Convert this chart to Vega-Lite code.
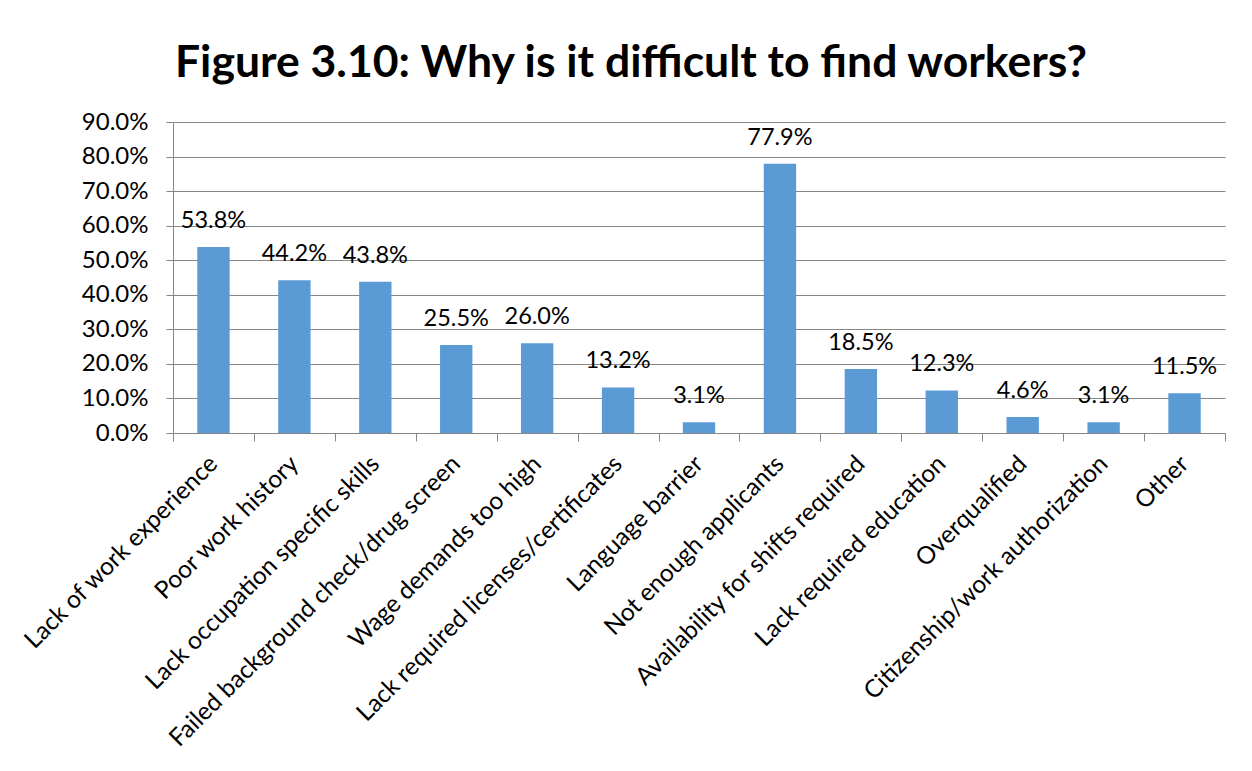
{
  "$schema": "https://vega.github.io/schema/vega-lite/v6.json",
  "width": 1052,
  "height": 311,
  "autosize": {"type": "none"},
  "padding": {"left": 173, "top": 122, "right": 27, "bottom": 338},
  "background": "#ffffff",
  "title": {
    "text": "Figure 3.10: Why is it difficult to find workers?",
    "font": "Lato",
    "fontSize": 44.5,
    "fontWeight": "bold",
    "color": "#000000",
    "anchor": "middle",
    "frame": "group",
    "dx": -68,
    "offset": 24
  },
  "config": {
    "view": {"stroke": null},
    "font": "Lato",
    "axis": {
      "labelFont": "Lato",
      "labelFontSize": 23.5,
      "labelColor": "#000000",
      "domainColor": "#868686",
      "tickColor": "#868686",
      "gridColor": "#868686",
      "titleFontSize": 0
    }
  },
  "data": {
    "values": [
      {"reason": "Lack of work experience", "pct": 0.538},
      {"reason": "Poor work history", "pct": 0.442},
      {"reason": "Lack occupation specific skills", "pct": 0.438},
      {"reason": "Failed background check/drug screen", "pct": 0.255},
      {"reason": "Wage demands too high", "pct": 0.260},
      {"reason": "Lack required licenses/certificates", "pct": 0.132},
      {"reason": "Language barrier", "pct": 0.031},
      {"reason": "Not enough applicants", "pct": 0.779},
      {"reason": "Availability for shifts required", "pct": 0.185},
      {"reason": "Lack required education", "pct": 0.123},
      {"reason": "Overqualified", "pct": 0.046},
      {"reason": "Citizenship/work authorization", "pct": 0.031},
      {"reason": "Other", "pct": 0.115}
    ]
  },
  "encoding": {
    "x": {
      "field": "reason",
      "type": "nominal",
      "sort": null,
      "title": null,
      "scale": {"paddingInner": 0, "paddingOuter": 0},
      "axis": {
        "labelAngle": -45,
        "labelAlign": "right",
        "labelBaseline": "middle",
        "labelPadding": 19,
        "labelFontSize": 24.5,
        "tickBand": "extent",
        "tickSize": 8,
        "grid": false,
        "labelLimit": 0
      }
    },
    "y": {
      "field": "pct",
      "type": "quantitative",
      "title": null,
      "scale": {"domain": [0, 0.9], "nice": false},
      "axis": {
        "format": ".1%",
        "values": [0, 0.1, 0.2, 0.3, 0.4, 0.5, 0.6, 0.7, 0.8, 0.9],
        "tickSize": 7,
        "labelPadding": 18,
        "labelFontSize": 24,
        "grid": true
      }
    }
  },
  "layer": [
    {"mark": {"type": "bar", "width": {"band": 0.4}, "color": "#5B9BD5"}},
    {
      "mark": {"type": "text", "baseline": "alphabetic", "dy": -19, "fontSize": 23.5, "font": "Lato", "color": "#000000"},
      "encoding": {"text": {"field": "pct", "type": "quantitative", "format": ".1%"}}
    }
  ]
}
